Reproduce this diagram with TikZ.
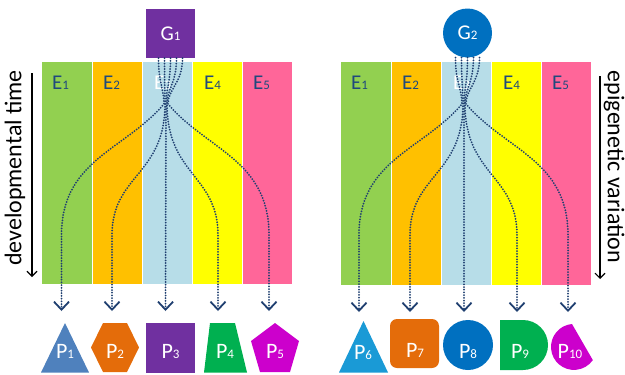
\documentclass[tikz,border=0pt]{standalone}
\usepackage{fontspec}
\setmainfont{Carlito}
\usetikzlibrary{arrows.meta}
\definecolor{sgreen}{HTML}{92D050}
\definecolor{sorange}{HTML}{FFC000}
\definecolor{sblue}{HTML}{B7DDE8}
\definecolor{syellow}{HTML}{FFFF00}
\definecolor{spink}{HTML}{FF6699}
\definecolor{eblue}{HTML}{1F497D}
\definecolor{flowc}{HTML}{1F3F70}
\definecolor{gpurple}{HTML}{7030A0}
\definecolor{gblue}{HTML}{0070C0}
\definecolor{ptri}{HTML}{4F81BD}
\definecolor{porange}{HTML}{E46C0A}
\definecolor{pgreen}{HTML}{00B050}
\definecolor{pmag}{HTML}{CC00CC}
\definecolor{pcyan}{HTML}{1A9AD6}
\newcommand{\labfont}{\fontsize{21pt}{21pt}\selectfont}
\newcommand{\plabfont}{\fontsize{22pt}{22pt}\selectfont}
\newcommand{\sidefont}{\fontsize{24pt}{24pt}\selectfont}
\newcommand{\psub}[1]{{\fontsize{13pt}{13pt}\selectfont #1}}
\begin{document}
\begin{tikzpicture}[x=1pt,y=-1pt,
  sep/.style={draw=white, line width=1pt},
  elab/.style={anchor=base west, text=eblue, font=\labfont, inner sep=0pt},
  plab/.style={anchor=base, text=white, font=\plabfont, inner sep=0pt},
  gbox/.style={minimum size=49pt, inner sep=0pt, text=white, font=\labfont},
  flow/.style={draw=flowc, line width=2pt, line cap=round, dash pattern=on 0pt off 2.7pt,
    -{Straight Barb[length=8pt,width=15pt,line width=1.8pt]}},
  timeax/.style={draw=black, line width=1.1pt, -{Straight Barb[length=5pt,width=10pt]}},
  sidetext/.style={font=\sidefont, inner sep=0pt},
]
\useasboundingbox (0,0) rectangle (625,375);

% ---------- left panel ----------
\foreach \c [count=\i] in {sgreen,sorange,sblue,syellow,spink}
  \fill[\c] ({42+(\i-1)*50},62) rectangle ({42+\i*50},284);
\foreach \x in {92,142,192,242}
  \draw[sep] (\x,62) -- (\x,284);
\node[elab] (E11) at (52,89) {E\psub{1}};
\node[elab] (E12) at (103,89) {E\psub{2}};
\node[elab, text=white] (E13) at (154,89) {E\psub{3}};
\node[elab] (E14) at (204,89) {E\psub{4}};
\node[elab] (E15) at (253,89) {E\psub{5}};

\node[gbox, fill=gpurple] (G1) at (170.5,33.5) {G\psub{1}};

\coordinate (k11) at (164,104);
\coordinate (k12) at (165,104);
\coordinate (k13) at (166,104);
\coordinate (k14) at (167,104);
\coordinate (k15) at (168,104);
\coordinate (t11) at (61.5,311);
\coordinate (t12) at (112,311);
\coordinate (t13) at (165.5,311);
\coordinate (t14) at (218,311);
\coordinate (t15) at (269,311);
\draw[flow] ([xshift=-12pt]G1.south) .. controls +(0,25) and +(0,-15) .. (k11)
  .. controls (125,150) and (61.5,160) .. (61.5,235) -- (t11);
\draw[flow] ([xshift=-6pt]G1.south) .. controls +(0,25) and +(0,-15) .. (k12)
  .. controls (165,175) and (112,175) .. (112,235) -- (t12);
\draw[flow] ([xshift=0pt]G1.south) .. controls +(0,25) and +(0,-15) .. (k13) -- (t13);
\draw[flow] ([xshift=6pt]G1.south) .. controls +(0,25) and +(0,-15) .. (k14)
  .. controls (167,175) and (218,175) .. (218,235) -- (t14);
\draw[flow] ([xshift=12pt]G1.south) .. controls +(0,25) and +(0,-15) .. (k15)
  .. controls (207,150) and (269,160) .. (269,235) -- (t15);

\coordinate (a1) at (32,73);
\coordinate (a2) at (32,277);
\draw[timeax] (a1) -- (a2);
\node[sidetext, rotate=90] (dt) at (15,168) {developmental time};

% P shapes left
\fill[ptri] (65,323) -- (89,372.5) -- (41,372.5) -- cycle;
\node[plab] (P1) at (65,358) {P\psub{1}};
\fill[porange] (103,323) -- (127,323) -- (139,347.5) -- (127,372) -- (103,372) -- (91,347.5) -- cycle;
\node[plab] (P2) at (115,358) {P\psub{2}};
\fill[gpurple] (146,323) rectangle (195,372.5);
\node[plab] (P3) at (170.5,358) {P\psub{3}};
\fill[pgreen] (210,323) -- (235,323) -- (247,372.5) -- (204,372.5) -- cycle;
\node[plab] (P4) at (225,358) {P\psub{4}};
\fill[pmag] (275,323) -- (299,341) -- (290,372) -- (260,372) -- (251,341) -- cycle;
\node[plab] (P5) at (275,358) {P\psub{5}};

% ---------- right panel ----------
\begin{scope}[xshift=299pt]
\foreach \c [count=\i] in {sgreen,sorange,sblue,syellow,spink}
  \fill[\c] ({42+(\i-1)*50},62) rectangle ({42+\i*50},285);
\foreach \x in {92,142,192,242}
  \draw[sep] (\x,62) -- (\x,285);
\node[elab] (E21) at (52,89) {E\psub{1}};
\node[elab] (E22) at (103,89) {E\psub{2}};
\node[elab, text=white] (E23) at (154,89) {E\psub{3}};
\node[elab] (E24) at (204,89) {E\psub{4}};
\node[elab] (E25) at (253,89) {E\psub{5}};

\node[gbox, circle, fill=gblue] (G2) at (168.5,33) {G\psub{2}};

\coordinate (k21) at (163,104);
\coordinate (k22) at (164,104);
\coordinate (k23) at (165,104);
\coordinate (k24) at (166,104);
\coordinate (k25) at (167,104);
\coordinate (t21) at (60,312);
\coordinate (t22) at (111,312);
\coordinate (t23) at (165,312);
\coordinate (t24) at (218,312);
\coordinate (t25) at (269,312);
\draw[flow] ([xshift=-12pt]G2.south) .. controls +(0,25) and +(0,-15) .. (k21)
  .. controls (124,150) and (60,160) .. (60,235) -- (t21);
\draw[flow] ([xshift=-6pt]G2.south) .. controls +(0,25) and +(0,-15) .. (k22)
  .. controls (164,175) and (111,175) .. (111,235) -- (t22);
\draw[flow] ([xshift=0pt]G2.south) .. controls +(0,25) and +(0,-15) .. (k23) -- (t23);
\draw[flow] ([xshift=6pt]G2.south) .. controls +(0,25) and +(0,-15) .. (k24)
  .. controls (166,175) and (218,175) .. (218,235) -- (t24);
\draw[flow] ([xshift=12pt]G2.south) .. controls +(0,25) and +(0,-15) .. (k25)
  .. controls (206,150) and (269,160) .. (269,235) -- (t25);
\end{scope}

\coordinate (b1) at (600,76);
\coordinate (b2) at (600,279);
\draw[timeax] (b1) -- (b2);
\node[sidetext, rotate=-90] (ev) at (614,167) {epigenetic variation};

% P shapes right
\fill[pcyan] (363.5,321) -- (388,372.5) -- (339,372.5) -- cycle;
\node[plab] (P6) at (363,359) {P\psub{6}};
\node[fill=porange, minimum size=49pt, inner sep=0pt, rounded corners=7pt] (P7box) at (414.5,343.5) {};
\node[plab] (P7) at (415,357) {P\psub{7}};
\node[fill=gblue, circle, minimum size=50pt, inner sep=0pt] (P8box) at (468,345) {};
\node[plab] (P8) at (468,358) {P\psub{8}};
\fill[pgreen] (500,320) -- (523,320) arc[start angle=-90, end angle=90, radius=25] -- (500,370) -- cycle;
\node[plab] (P9) at (520,358) {P\psub{9}};
\fill[pmag] (572,324) arc[start angle=-95, end angle=-325, radius=23] -- cycle;
\node[plab] (P10) at (570,358) {P\psub{10}};
\end{tikzpicture}
\end{document}
